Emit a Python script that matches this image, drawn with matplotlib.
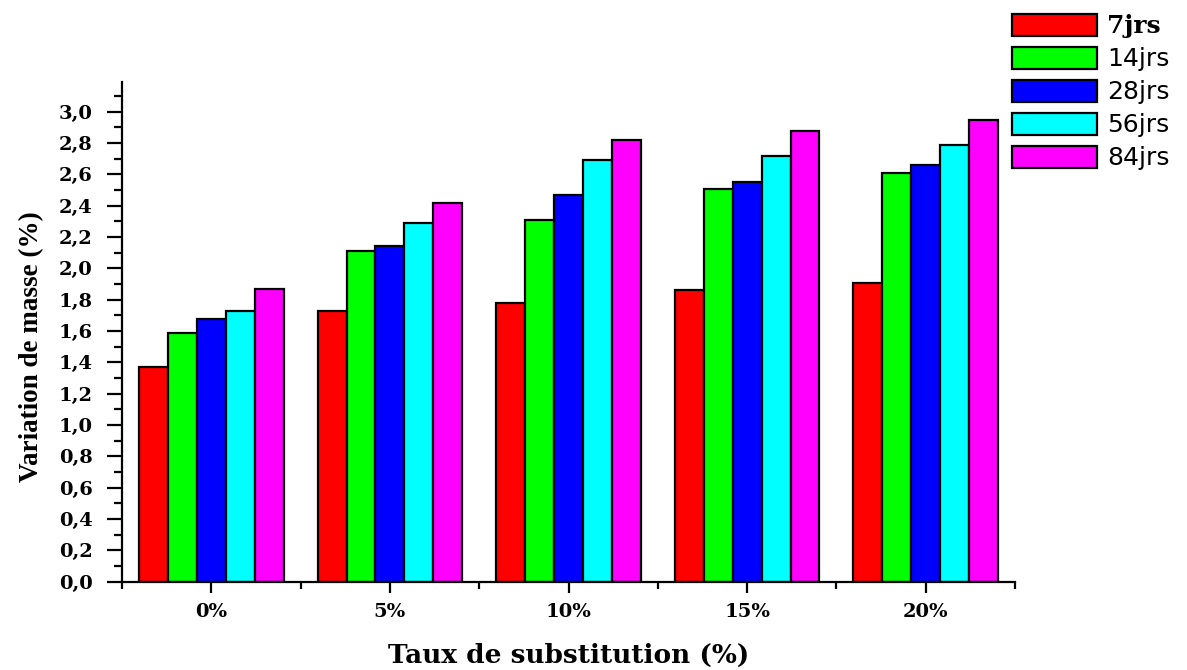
import numpy as np
import matplotlib.pyplot as plt
from matplotlib.ticker import MultipleLocator, FixedLocator

# taux de substitution (groups)
categories = ["0%", "5%", "10%", "15%", "20%"]
ages = ["7jrs", "14jrs", "28jrs", "56jrs", "84jrs"]

# variation de masse (%) per age
v7 = [1.37, 1.73, 1.78, 1.86, 1.91]
v14 = [1.59, 2.11, 2.31, 2.51, 2.61]
v28 = [1.68, 2.14, 2.47, 2.55, 2.66]
v56 = [1.73, 2.29, 2.69, 2.72, 2.79]
v84 = [1.87, 2.42, 2.82, 2.88, 2.95]

series = [v7, v14, v28, v56, v84]
colors = ["#ff0000", "#00ff00", "#0000ff", "#00ffff", "#ff00ff"]

# the source image is stretched sideways, so the wider DejaVu Serif fits best
wide_serif = "DejaVu Serif"
times = "Liberation Serif"

fig = plt.figure(figsize=(11.87, 6.70), dpi=100)
ax = fig.add_axes([0.1028, 0.1318, 0.7523, 0.7458])

x = np.arange(len(categories))
w = 0.162
for i, (vals, c, lab) in enumerate(zip(series, colors, ages)):
    ax.bar(x + (i - 2) * w, vals, width=w, color=c, edgecolor="black",
           linewidth=1.6, label=lab)

ax.set_xlim(-0.5, 4.5)
ax.set_ylim(0, 3.19)

for s in ["top", "right"]:
    ax.spines[s].set_visible(False)
for s in ["left", "bottom"]:
    ax.spines[s].set_linewidth(1.6)

yt = np.arange(0, 3.01, 0.2)
ax.set_yticks(yt)
ax.set_yticklabels([("%.1f" % v).replace(".", ",") for v in yt])
ax.yaxis.set_minor_locator(MultipleLocator(0.1))
ax.set_xticks(x)
ax.set_xticklabels(categories)
ax.xaxis.set_minor_locator(FixedLocator(np.arange(-0.5, 4.6, 1.0)))

ax.tick_params(axis="x", which="major", direction="out", length=8, width=1.6, pad=7)
ax.tick_params(axis="x", which="minor", direction="out", length=5, width=1.6)
ax.tick_params(axis="y", which="major", direction="out", length=11, width=1.6, pad=10)
ax.tick_params(axis="y", which="minor", direction="out", length=6, width=1.6)

for t in ax.get_xticklabels() + ax.get_yticklabels():
    t.set_fontfamily(wide_serif)
    t.set_fontweight("bold")
    t.set_fontsize(14)

ax.set_xlabel("Taux de substitution (%)", fontfamily=wide_serif,
              fontweight="bold", fontsize=19)
ax.xaxis.set_label_coords(0.5, -0.123)
ax.set_ylabel("Variation de masse (%)", fontfamily=times, fontweight="bold",
              fontsize=19.5)
ax.yaxis.set_label_coords(-0.087, 0.47)

leg = ax.legend(loc="upper left", bbox_to_anchor=(1012 / 1187, 1 - 14 / 670),
                bbox_transform=fig.transFigure, frameon=False,
                fontsize=18, handlelength=3.4, handleheight=0.96,
                labelspacing=0.34, handletextpad=0.4, borderaxespad=0,
                borderpad=0)
for t in leg.get_texts():
    t.set_fontfamily("DejaVu Sans")
leg.get_texts()[0].set_fontfamily(wide_serif)
leg.get_texts()[0].set_fontweight("bold")

fig.savefig("out.png", dpi=100)
